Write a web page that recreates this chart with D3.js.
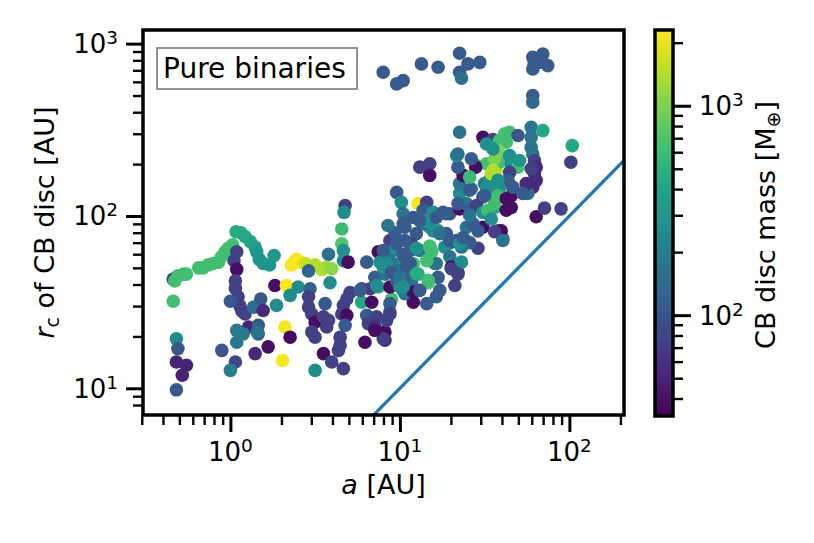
<!DOCTYPE html>
<html><head><meta charset="utf-8">
<script src="https://cdn.jsdelivr.net/npm/d3@7/dist/d3.min.js"></script>
<style>body{margin:0;background:#fff} text{font-family:"DejaVu Sans",sans-serif;fill:#000}</style>
</head><body><svg id="c" width="814" height="543"></svg>
<script>
// ---- data: semi-major axis a [AU], disc radius r_c [AU], disc mass [M_earth]
const semiMajorAxis = [
0.46,0.47,0.49,0.53,0.55,0.46,0.65,0.69,0.74,0.79,0.85,0.885,0.93,0.97,1.03,1.08,1.15,1.22,1.31,1.40,1.43,1.48,1.56,1.70,1.81,
1.09,1.05,1.09,1.07,1.07,1.11,1.14,1.17,1.22,1.28,
0.48,0.49,0.48,0.55,0.52,0.48,1.0,0.89,1.07,1.0,1.09,1.09,1.19,1.37,1.51,1.56,1.46,1.46,1.44,1.40,1.67,1.83,1.87,2.14,2.25,2.51,2.10,2.25,2.03,2.46,2.29,
2.41,2.58,2.76,3.16,3.46,3.70,3.96,2.89,3.87,3.79,4.54,4.54,4.64,4.64,4.75,4.68,4.95,6.37,9.57,10.2,12.8,10.45,10.7,8.73,7.45,7.63,7.12,7.45,8.93,10.45,11.7,12.0,8.73,9.57,
2.95,2.89,2.89,3.02,3.16,3.54,3.70,3.02,3.16,3.62,5.08,4.86,4.64,4.54,4.86,4.75,4.44,4.44,4.34,3.54,3.96,4.64,3.16,
5.95,6.66,5.95,6.82,6.37,6.51,7.29,7.12,8.16,8.16,6.22,8.73,8.73,
5.82,7.29,7.97,7.12,3.79,
13.1,15.0,15.0,14.4,12.0,13.7,15.7,18.0,19.7,22.5,
24.7,26.4,28.3,22.5,22.5,23.6,22.0,21.6,26.4,30.9,
31.6,33.8,37.0,38.7,32.4,28.3,28.0,25.8,35.4,36.2,
30.9,30.9,37.9,40.5,24.7,27.0,28.9,25.8,23.1,21.6,
18.8,19.7,16.8,15.0,13.7,12.5,11.7,11.5,15.0,15.4,
15.0,16.1,18.4,19.7,20.1,22.0,23.1,16.8,12.8,14.7,
11.7,10.45,10,9.13,9.57,7.97,8.73,8.16,10,10.7,
12.0,14.4,8.73,8.35,7.97,9.57,12.0,22.0,
7.97,9.57,10.45,13.4,16.8,22.5,25.2,22.5,23.1,29.6,60.8,69.7,60.8,74.5,66.6,62,60.8,60.8,
22.5,30.9,35.4,41.5,44.4,49.7,59.5,69.7,59.5,104,
102,59.5,60.8,62.2,63.7,62.2,63.7,60.8,56.9,38.7,
42.4,37.9,36.2,35.4,34.6,32.4,35.4,44.4,45.4,49.7,
50.8,44.4,43.4,37.9,38.7,37.9,36.2,32.4,22.0,26.4,
22.0,25.8,31.6,42.4,45.4,45.4,42.4,46.4,33.0,34.6,
39.6,36.2,40.5,63.7,71.3,89.3,55.6,59.5,53.1,
10.45,11.5,8.35,8.93,11.0,10.7,13.1,13.1,16.4,
10.45,14.4,16.4,18.8,15.7,17.2,19.7,22.5,13.1,23.6,
17.2,21.1,9.35,8.5,25.8,28.9,12.5,10.45,10.9,10.0,
10.45,12.5,14.7,16.4,20.1,15.0,15.4,14.4
];
const discRadius = [
43,42,45,46,46,32,50,50,52,53,54,58,62,65,68,81,80,76,71,66,62,56,53,52,59,
62,55,49,42,38,34,30,28,27,22.7,
19.4,17,14.2,13.6,11.9,9.8,32,16.6,14.2,12.7,21.7,18.5,20.7,29.6,33,28.3,23.2,20.7,21.2,15.9,17.4,39.5,30.3,39.5,34.6,38.7,22.7,19.8,14.5,56,52,
55,54,53,52,49,50.5,49.4,48,41,60,69,84,63,55,115,105,54,54,137,120,118,103,86,72,62,54,44,38.7,33,37,37,31.6,38.7,42,
37.8,34,29.6,27,24.2,26,22.7,21.2,19.8,31,36,33,30.3,27,26.5,23.2,19.8,17.8,16.6,15.9,14.2,13,12.7,
37.8,37.8,31.6,31.6,26.5,23.7,26,22.7,21.2,19,18.5,27.7,31,
37,39.5,19.4,21.7,24.8,
192,201,172,120,98,108,105,105,103,110,
118,110,115,135,154,172,192,224,144,129,
154,161,184,205,201,196,192,168,135,112,
105,86,82,74,86,90,65,70,66,72,
79,70,82,86,90,79,69,63,67,63,
55,53,66,58,50.5,47,54,44,46,41,
41,44,53,63,69,63,55,46,38.7,35.4,
36.2,31,27,24.8,50.5,48.3,53,46,
682,584,610,763,729,880,763,682,630,779,833,871,713,746,779,760,500,457,
306,286,278,300,306,293,327,313,286,256,
205,250,229,210,192,176,161,147,135,274,
268,240,215,184,176,262,245,224,201,192,
210,179,161,161,144,131,118,147,229,215,
118,141,131,126,131,112,108,147,108,96,
82,81,72,99,111,110,154,188,135,
60,53,53,47,46,72,63,37,34,
90,94,98,103,82,79,72,69,94,75,
37,39.5,80,88,101,82,65,59,50.5,44,
38.7,46.2,42.3,53,49.4,66,62,55
];
const discMass = [
75,640,640,640,640,640,640,640,640,640,640,640,640,640,640,450,450,420,400,380,330,300,300,300,300,
75,75,38,75,75,75,75,75,75,50,
250,105,50,50,50,105,105,100,80,200,180,180,180,150,105,55,105,105,170,55,38,38,250,2200,250,250,2200,36,2200,2200,2200,
2200,2200,1600,1400,1400,1300,1100,130,260,150,700,600,270,270,75,250,38,110,110,260,2200,170,110,75,38,260,110,450,640,260,75,38,38,110,
120,75,75,75,38,75,75,75,75,110,75,75,75,75,38,110,75,75,75,38,75,75,250,
75,75,420,38,110,75,75,55,38,55,38,75,110,
110,260,75,38,75,
75,75,38,75,110,110,260,110,110,38,
170,110,75,260,170,38,110,260,170,75,
170,270,1500,640,640,640,38,600,270,450,
270,38,75,270,170,110,75,110,170,110,
110,75,260,260,170,110,75,110,700,700,
640,170,260,170,38,38,260,110,450,700,
170,110,260,260,110,110,170,170,260,170,
38,110,75,75,260,170,640,75,
110,110,110,110,110,110,110,110,150,110,110,110,110,110,110,110,110,140,
170,38,75,640,640,100,170,420,170,420,
75,170,170,75,55,55,55,55,150,640,
640,1000,1000,1400,1400,270,270,270,270,640,
300,75,110,270,270,640,640,270,170,110,
110,110,110,38,38,38,38,110,640,270,
38,75,170,38,75,75,55,75,110,
110,110,250,110,110,110,170,110,110,
110,270,110,110,270,170,110,270,110,110,
110,75,110,170,170,110,270,110,110,170,
270,450,640,170,75,640,640,640
];
// axis limits and ticks
const xDomain = [0.305, 210];
const yDomain = [7, 1200];
const massDomain = [33, 2300];
const xMajor = [1, 10, 100], xMajorExp = ["0","1","2"];
const xMinor = [0.3,0.4,0.5,0.6,0.7,0.8,0.9,2,3,4,5,6,7,8,9,20,30,40,50,60,70,80,90,200];
const yMajor = [10, 100, 1000], yMajorExp = ["1","2","3"];
const yMinor = [8,9,20,30,40,50,60,70,80,90,200,300,400,500,600,700,800,900];
const cbMajor = [100, 1000], cbMajorExp = ["2","3"];
const cbMinor = [40,50,60,70,80,90,200,300,400,500,600,700,800,900,2000];
const oneToOne = [0.305, 210]; // r_c = a reference line

const svg = d3.select("#c");
const L = 143, R = 624, T = 30, B = 415;
const x = d3.scaleLog().domain(xDomain).range([L, R]);
const y = d3.scaleLog().domain(yDomain).range([B, T]);
const color = d3.scaleSequentialLog(d3.interpolateViridis).domain(massDomain);
const cbY = d3.scaleLog().domain(massDomain).range([416, 30]);

const defs = svg.append("defs");
defs.append("clipPath").attr("id","clip").append("rect").attr("x",L).attr("y",T).attr("width",R-L).attr("height",B-T);
const grad = defs.append("linearGradient").attr("id","vir").attr("x1",0).attr("y1",1).attr("x2",0).attr("y2",0);
d3.range(0,1.0001,0.05).forEach(t=>grad.append("stop").attr("offset",t).attr("stop-color",d3.interpolateViridis(t)));

const pts = semiMajorAxis.map((a,i)=>({a, r:discRadius[i], m:discMass[i]}));
const gp = svg.append("g").attr("clip-path","url(#clip)");
gp.selectAll("circle").data(pts).join("circle")
  .attr("cx",d=>x(d.a)).attr("cy",d=>y(d.r)).attr("r",6.8).attr("fill",d=>color(d.m));
gp.append("path").attr("d", d3.line()(oneToOne.map(v=>[x(v), y(v)])))
  .attr("stroke","#1f77b4").attr("stroke-width",3.2).attr("fill","none");

function ticks(axisFn, scale, vals, size, width, tr){
  const g = svg.append("g").attr("transform",tr).call(axisFn(scale).tickValues(vals).tickSize(size).tickFormat(""));
  g.select(".domain").remove();
  g.selectAll("line").attr("stroke","#000").attr("stroke-width",width);
}
ticks(d3.axisBottom, x, xMinor, 10, 2.4, `translate(0,${B})`);
ticks(d3.axisBottom, x, xMajor, 17, 3, `translate(0,${B})`);
ticks(d3.axisLeft, y, yMinor, 10, 2.4, `translate(${L},0)`);
ticks(d3.axisLeft, y, yMajor, 17, 3, `translate(${L},0)`);

// spines
svg.append("rect").attr("x",L).attr("y",T).attr("width",R-L).attr("height",B-T)
  .attr("fill","none").attr("stroke","#000").attr("stroke-width",3.5);

function sup(t, exp){
  t.append("tspan").text("10");
  t.append("tspan").attr("dy",-9).attr("font-size",18.5).text(exp);
}
xMajor.forEach((v,i)=>{
  sup(svg.append("text").attr("x",x(v)).attr("y",461).attr("text-anchor","middle").attr("font-size",26), xMajorExp[i]);
});
yMajor.forEach((v,i)=>{
  sup(svg.append("text").attr("x",118).attr("y",y(v)+9.5).attr("text-anchor","end").attr("font-size",26), yMajorExp[i]);
});

// axis labels
const xl = svg.append("text").attr("x",(L+R)/2).attr("y",494).attr("text-anchor","middle").attr("font-size",27);
xl.append("tspan").attr("font-style","italic").text("a");
xl.append("tspan").text(" [AU]");
const yl = svg.append("text").attr("transform",`translate(54,${(T+B)/2}) rotate(-90)`).attr("text-anchor","middle").attr("font-size",27);
yl.append("tspan").attr("font-style","italic").text("r");
yl.append("tspan").attr("font-size",19).attr("dy",5).text("c");
yl.append("tspan").attr("dy",-5).text(" of CB disc [AU]");

// legend
svg.append("rect").attr("x",157).attr("y",48).attr("width",200).attr("height",41)
  .attr("fill","#fff").attr("stroke","#888").attr("stroke-width",1.8);
svg.append("text").attr("x",163).attr("y",78).attr("font-size",28).text("Pure binaries");

// colorbar
svg.append("rect").attr("x",655).attr("y",30).attr("width",18).attr("height",386).attr("fill","url(#vir)");
ticks(d3.axisRight, cbY, cbMinor, 10, 2.4, `translate(673,0)`);
ticks(d3.axisRight, cbY, cbMajor, 18, 3, `translate(673,0)`);
svg.append("rect").attr("x",655).attr("y",30).attr("width",18).attr("height",386)
  .attr("fill","none").attr("stroke","#000").attr("stroke-width",3.5);
cbMajor.forEach((v,i)=>{
  sup(svg.append("text").attr("x",699).attr("y",cbY(v)+9.5).attr("font-size",26), cbMajorExp[i]);
});
const cl = svg.append("text").attr("transform","translate(775,225) rotate(-90)").attr("text-anchor","middle").attr("font-size",27);
cl.append("tspan").text("CB disc mass [M");
cl.append("tspan").attr("font-size",19).attr("dy",5).text("⊕");
cl.append("tspan").attr("dy",-5).text("]");
</script></body></html>
